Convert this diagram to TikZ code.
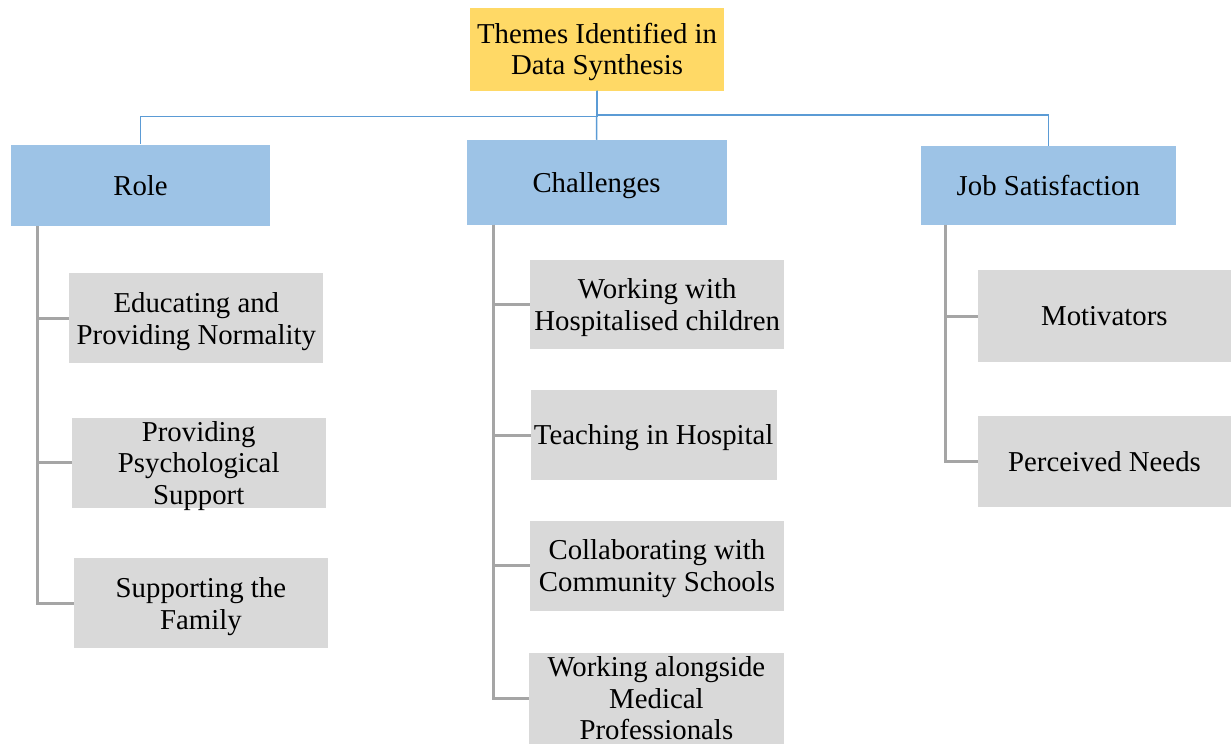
\documentclass[tikz,border=0pt]{standalone}
\usepackage{fontspec}
\setmainfont{Liberation Serif}
\definecolor{themeyellow}{HTML}{FFD966}
\definecolor{themeblue}{HTML}{9DC3E6}
\definecolor{subgray}{HTML}{D9D9D9}
\definecolor{linkblue}{HTML}{5B9BD5}
\definecolor{linkgray}{HTML}{A5A5A5}
\begin{document}
\begin{tikzpicture}[x=1pt,y=-1pt,
  box/.style={rectangle, inner sep=0pt, align=center, text depth=0pt,
    font=\fontsize{28.8}{31.5}\selectfont},
  rootbox/.style={box, fill=themeyellow},
  themebox/.style={box, fill=themeblue},
  subbox/.style={box, fill=subgray},
  bluelink/.style={draw=linkblue, line width=1.5pt},
  graylink/.style={draw=linkgray, line width=3pt}]
\useasboundingbox (0,0) rectangle (1231,744);

% root
\node[rootbox, minimum width=254pt, minimum height=83pt] (root) at (597,49)
  {Themes Identified in\\Data Synthesis};

% themes
\node[themebox, minimum width=259pt, minimum height=81.5pt] (role) at (140.5,185.3) {Role};
\node[themebox, minimum width=260pt, minimum height=84.7pt] (chal) at (596.5,182.3) {Challenges};
\node[themebox, minimum width=254.5pt, minimum height=79pt] (job) at (1048.3,185.2) {Job Satisfaction};

% sub-themes: Role
\node[subbox, minimum width=254pt, minimum height=90pt] (edu) at (196.3,318.3)
  {Educating and\\Providing Normality};
\node[subbox, minimum width=254pt, minimum height=90pt] (psy) at (198.7,462.7)
  {Providing\\Psychological\\Support};
\node[subbox, minimum width=253.7pt, minimum height=90pt] (fam) at (200.9,603.3)
  {Supporting the\\Family};

% sub-themes: Challenges
\node[subbox, minimum width=254.3pt, minimum height=89.3pt] (hosp) at (657.2,304.7)
  {Working with\\Hospitalised children};
\node[subbox, minimum width=246pt, minimum height=90pt] (teach) at (653.7,435)
  {Teaching in Hospital};
\node[subbox, minimum width=254pt, minimum height=90pt] (coll) at (657,565.7)
  {Collaborating with\\Community Schools};
\node[subbox, minimum width=254.2pt, minimum height=91.5pt] (med) at (656.4,698.3)
  {Working alongside\\Medical\\Professionals};

% sub-themes: Job Satisfaction
\node[subbox, minimum width=253.3pt, minimum height=92.3pt] (mot) at (1104.4,316.2)
  {Motivators};
\node[subbox, minimum width=253pt, minimum height=91.3pt] (need) at (1104.5,461.7)
  {Perceived Needs};

% root to themes
\draw[bluelink] (root.south) -- (chal.north);
\draw[bluelink] (root.south) -- ++(0,26) -| (role.north);
\draw[bluelink] (root.south) -- ++(0,24.5) -| (job.north);

% themes to sub-themes
\foreach \s in {edu,psy,fam}
  \draw[graylink] ([xshift=27pt]role.south west) |- (\s.west);
\foreach \s in {hosp,teach,coll,med}
  \draw[graylink] ([xshift=26.8pt]chal.south west) |- (\s.west);
\foreach \s in {mot,need}
  \draw[graylink] ([xshift=24.7pt]job.south west) |- (\s.west);
\end{tikzpicture}
\end{document}
